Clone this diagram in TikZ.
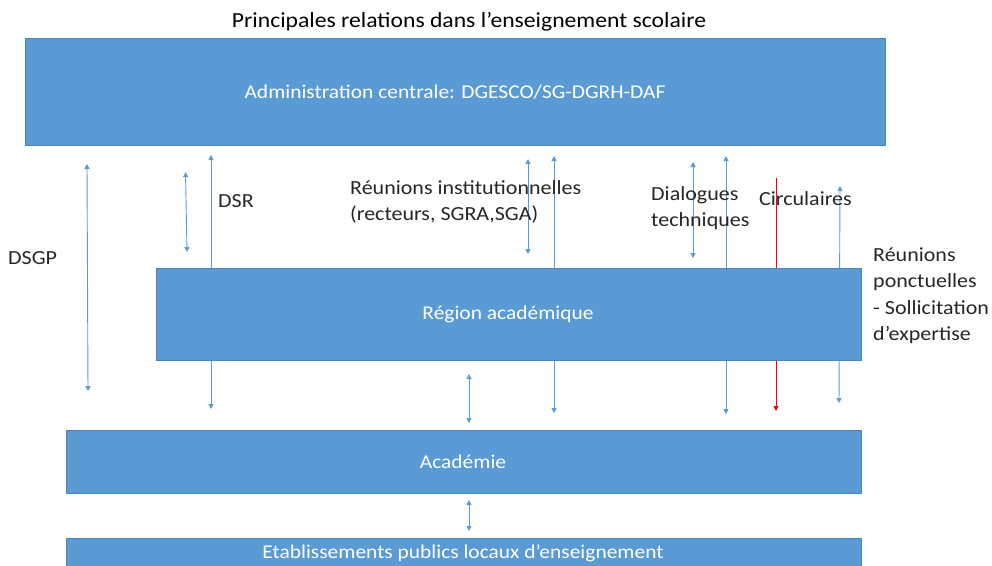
\documentclass[tikz,border=0pt]{standalone}
\usepackage{fontspec}
\setmainfont{Carlito}[FakeStretch=1.1]
\usetikzlibrary{arrows.meta}
\definecolor{boxblue}{HTML}{5B9BD5}
\definecolor{txt}{HTML}{262626}
\tikzset{
  bluebox/.style={fill=boxblue, draw=boxblue!85!black, line width=0.6pt, inner sep=0pt},
  boxtext/.style={text=white, font=\fontsize{19.5}{22}\selectfont, inner sep=0pt},
  lbl/.style={text=txt, font=\fontsize{20}{26.3}\selectfont, inner sep=0pt, align=left, anchor=north west},
  link/.style={draw=boxblue, line width=0.9pt, {Triangle[width=5pt,length=5pt]}-{Triangle[width=5pt,length=5pt]}},
  redlink/.style={draw=red, line width=0.9pt, -{Triangle[width=5pt,length=5pt]}}
}
\begin{document}
\begin{tikzpicture}[x=1pt,y=-1pt]
\useasboundingbox (0,0) rectangle (992,565);
\clip (0,0) rectangle (992,565);
% title
\node[text=black, font=\fontsize{21.5}{24}\selectfont, inner sep=0pt] (title) at (469,22) {Principales relations dans l’enseignement scolaire};
% admin box
\node[bluebox, minimum width=860pt, minimum height=107pt] (admin) at (455,91.5) {};
\node[boxtext] (admintxt) at (455,92) {Administration centrale: DGESCO/SG-DGRH-DAF};
% long arrows behind region box
\coordinate (a1t) at (211,155); \coordinate (a1b) at (211,409);
\coordinate (a2t) at (554,156); \coordinate (a2b) at (554,413);
\coordinate (a3t) at (726,156); \coordinate (a3b) at (726,414);
\coordinate (a4t) at (840,186); \coordinate (a4b) at (839,403);
\coordinate (rt) at (776,178); \coordinate (rb) at (776,411);
\draw[link] (a1t) -- (a1b);
\draw[link] (a2t) -- (a2b);
\draw[link] (a3t) -- (a3b);
\draw[link] (a4t) -- (a4b);
\draw[redlink] (rt) -- (rb);
% region box
\node[bluebox, minimum width=705pt, minimum height=92pt] (region) at (508.5,314) {};
\node[boxtext] (regiontxt) at (508,314) {Région académique};
% short arrows
\coordinate (s1t) at (87,164); \coordinate (s1b) at (88,391);
\coordinate (s2t) at (185.5,172); \coordinate (s2b) at (187,252);
\coordinate (s3t) at (528,159); \coordinate (s3b) at (528,254);
\coordinate (s4t) at (693,162); \coordinate (s4b) at (693,258);
\coordinate (s5t) at (469,374); \coordinate (s5b) at (469,423);
\coordinate (s6t) at (469,500); \coordinate (s6b) at (469,531);
\draw[link] (s1t) -- (s1b);
\draw[link] (s2t) -- (s2b);
\draw[link] (s3t) -- (s3b);
\draw[link] (s4t) -- (s4b);
\draw[link] (s5t) -- (s5b);
\draw[link] (s6t) -- (s6b);
% academie
\node[bluebox, minimum width=795pt, minimum height=63pt] (acad) at (463.5,461.5) {};
\node[boxtext] (acadtxt) at (463,462) {Académie};
% etablissements
\node[bluebox, minimum width=795pt, minimum height=40pt] (epl) at (463.5,558) {};
\node[boxtext] (epltxt) at (463,553) {Etablissements publics locaux d’enseignement};
% labels
\node[lbl] (dsr) at (218,194) {DSR};
\node[lbl] (dsgp) at (8,251) {DSGP};
\node[lbl] (reun) at (350,180) {Réunions institutionnelles\\(recteurs, SGRA,SGA)};
\node[lbl] (dial) at (651,186) {Dialogues\\techniques};
\node[lbl] (circ) at (759,191) {Circulaires};
\node[lbl] (ponct) at (873,247.5) {Réunions\\ponctuelles\\- Sollicitation\\d’expertise};
\end{tikzpicture}
\end{document}
